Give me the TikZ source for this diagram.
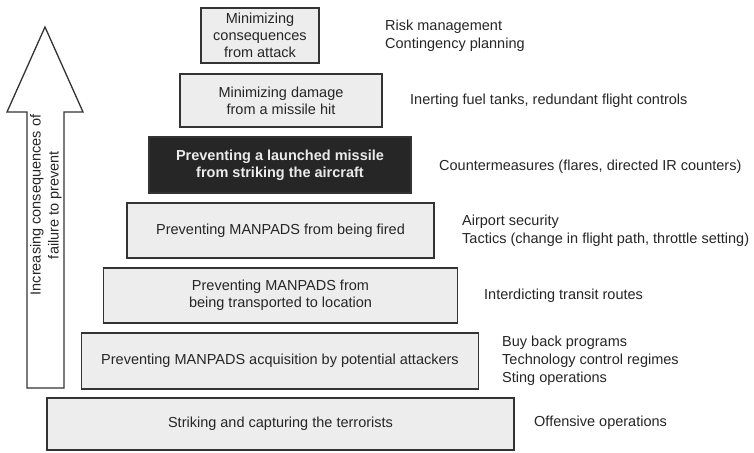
\documentclass[tikz,border=0pt]{standalone}
\usepackage{fontspec}
\setmainfont{Liberation Sans}
\begin{document}
\begin{tikzpicture}[x=1pt,y=-1pt,
  box/.style={draw=black!80, line width=1.6pt, fill=black!7, rectangle, inner sep=0pt,
    align=center, font=\fontsize{14.5}{17}\selectfont, text=black!85},
  darkbox/.style={box, fill=black!85, text=white!92!black,
    font=\bfseries\fontsize{14.5}{17}\selectfont},
  side/.style={anchor=west, inner sep=0pt, align=left,
    font=\fontsize{14.5}{18}\selectfont, text=black!85},
  bigarrow/.style={draw=black!80, line width=1.3pt, fill=white, line join=miter}]
\useasboundingbox (0,0) rectangle (754,452);
\fill[white] (0,0) rectangle (754,452);

% pyramid boxes
\node[box, minimum width=118pt, minimum height=55pt] (b1) at (260,35.5) {Minimizing\\consequences\\from attack};
\node[box, minimum width=202pt, minimum height=53pt] (b2) at (281,100.5) {Minimizing damage\\from a missile hit};
\node[darkbox, minimum width=262pt, minimum height=56pt] (b3) at (280,165) {Preventing a launched missile\\from striking the aircraft};
\node[box, minimum width=307pt, minimum height=55pt] (b4) at (280.5,230.5) {Preventing MANPADS from being fired};
\node[box, minimum width=354pt, minimum height=55pt] (b5) at (280.5,295.5) {Preventing MANPADS from\\being transported to location};
\node[box, minimum width=397pt, minimum height=56pt] (b6) at (280,361) {Preventing MANPADS acquisition by potential attackers};
\node[box, minimum width=467pt, minimum height=52pt] (b7) at (280.5,424) {Striking and capturing the terrorists};

% side labels
\node[side] (s1) at (385,35.5) {Risk management\\Contingency planning};
\node[side] (s2) at (410,100.5) {Inerting fuel tanks, redundant flight controls};
\node[side] (s3) at (439,167) {Countermeasures (flares, directed IR counters)};
\node[side] (s4) at (462,231) {Airport security\\Tactics (change in flight path, throttle setting)};
\node[side] (s5) at (484,296) {Interdicting transit routes};
\node[side] (s6) at (502,360.5) {Buy back programs\\Technology control regimes\\Sting operations};
\node[side] (s7) at (534,423) {Offensive operations};

% big upward arrow
\draw[bigarrow] (27,388) -- (27,112) -- (7,112) -- (45,27) -- (83,112) -- (64,112) -- (64,388) -- cycle;
\node[rotate=90, align=center, inner sep=0pt, text=black!85,
  font=\fontsize{14.5}{18}\selectfont] (lab) at (46,205) {Increasing consequences of\\failure to prevent};
\end{tikzpicture}
\end{document}
